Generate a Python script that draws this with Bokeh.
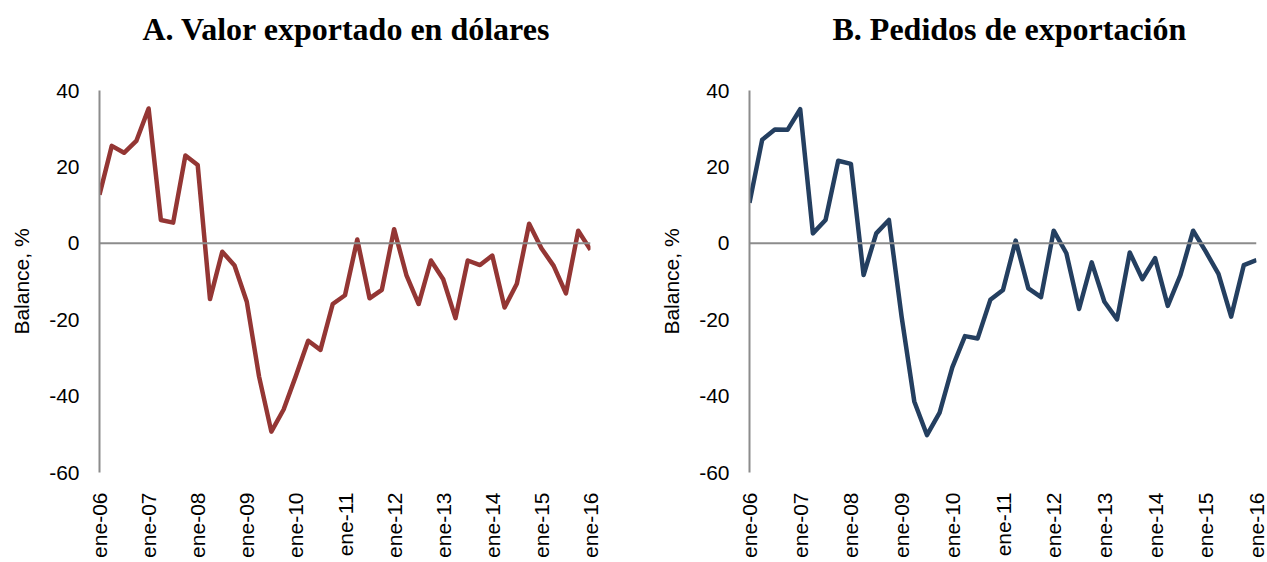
from bokeh.plotting import figure
from bokeh.layouts import row
from bokeh.models import FixedTicker, Span, Title
from bokeh.embed import file_html
from bokeh.resources import INLINE

# Quarterly data, ene-06 .. ene-16 (41 quarters)
valor_exportado = [12.7, 25.5, 23.7, 26.8, 35.3, 6.1, 5.4, 23.0, 20.5, -14.6,
                   -2.2, -5.8, -15.3, -34.9, -49.3, -43.5, -34.7, -25.5, -27.9, -15.9,
                   -13.6, 1.0, -14.4, -12.2, 3.7, -8.3, -15.9, -4.5, -9.4, -19.6,
                   -4.5, -5.7, -3.2, -16.8, -10.6, 5.1, -1.3, -5.9, -13.1, 3.3,
                   -1.7]
pedidos_exportacion = [10.6, 27.1, 29.8, 29.7, 35.1, 2.6, 6.1, 21.6, 20.8, -8.3,
                       2.6, 6.1, -19.2, -41.4, -50.2, -44.3, -32.5, -24.3, -24.9, -14.8,
                       -12.2, 0.7, -11.8, -14.1, 3.3, -2.6, -17.2, -5.0, -15.3, -19.9,
                       -2.4, -9.4, -3.9, -16.4, -8.3, 3.3, -2.2, -8.0, -19.2, -5.7,
                       -4.4]
year_labels = ["ene-06", "ene-07", "ene-08", "ene-09", "ene-10", "ene-11",
               "ene-12", "ene-13", "ene-14", "ene-15", "ene-16"]
y_ticks = [-60, -40, -20, 0, 20, 40]
y_tick_labels = ["-60", "-40", "-20", "0", "20", "40"]
titles = ["A.  Valor exportado en dólares", "B.  Pedidos de exportación"]
colors = ["#943634", "#243F60"]

quarters = list(range(len(valor_exportado)))
year_ticks = [4 * i for i in range(len(year_labels))]


def make_panel(values, title, color, width, border_left, border_right, title_offset):
    p = figure(width=width, height=562, output_backend="svg", toolbar_location=None,
               x_range=(0, 40), y_range=(-60, 40), title=None,
               min_border_left=border_left, min_border_right=border_right,
               min_border_top=90, min_border_bottom=90)
    # spacer panel between frame and title
    p.add_layout(Title(text=" ", text_font_size="12px", standoff=28), "above")
    p.add_layout(Title(text=title, text_font="Liberation Serif", text_font_style="bold",
                       text_font_size="32px", text_color="black", align="left",
                       offset=title_offset, vertical_align="bottom", standoff=0), "above")
    p.outline_line_color = None
    p.grid.visible = False

    p.add_layout(Span(location=0, dimension="width", line_color="#8c8c8c", line_width=2))
    p.line(quarters, values, line_color=color, line_width=4.5, line_join="round")

    xa = p.xaxis[0]
    xa.ticker = FixedTicker(ticks=year_ticks)
    xa.major_label_overrides = {t: l for t, l in zip(year_ticks, year_labels)}
    xa.major_label_orientation = 3.14159265 / 2
    xa.axis_line_color = None
    xa.major_tick_line_color = None
    xa.minor_tick_line_color = None
    xa.major_label_standoff = 14
    xa.major_label_text_font = "Liberation Sans"
    xa.major_label_text_font_size = "21px"
    xa.major_label_text_color = "black"

    ya = p.yaxis[0]
    ya.ticker = FixedTicker(ticks=y_ticks)
    ya.major_label_overrides = {t: l for t, l in zip(y_ticks, y_tick_labels)}
    ya.axis_line_color = "#8c8c8c"
    ya.axis_line_width = 2
    ya.major_tick_line_color = None
    ya.minor_tick_line_color = None
    ya.major_label_standoff = 14
    ya.major_label_text_font = "Liberation Sans"
    ya.major_label_text_font_size = "21px"
    ya.major_label_text_color = "black"
    ya.axis_label = "Balance, %"
    ya.axis_label_text_font = "Liberation Sans"
    ya.axis_label_text_font_size = "21px"
    ya.axis_label_text_font_style = "normal"
    ya.axis_label_text_color = "black"
    ya.axis_label_standoff = 13
    return p


pa = make_panel(valor_exportado, titles[0], colors[0], 633, 99, 43, 43)
pb = make_panel(pedidos_exportacion, titles[1], colors[1], 634, 116, 11, 83)

layout = row(pa, pb)
open("out.html", "w").write(file_html(layout, INLINE))
